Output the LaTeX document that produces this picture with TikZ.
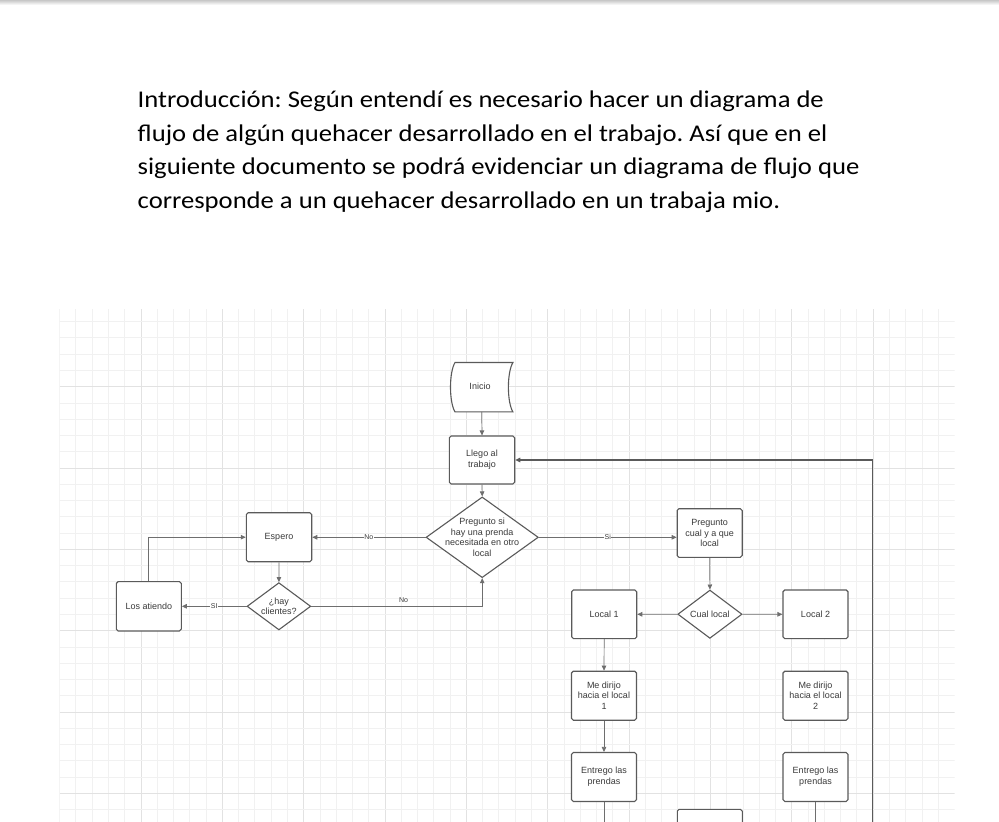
\documentclass[tikz,border=0pt]{standalone}
\usepackage{fontspec}
\setmainfont{Liberation Sans}
\newfontfamily\introfont[FakeStretch=1.11]{Carlito}
\usetikzlibrary{shapes.geometric,arrows.meta}

\definecolor{gridminor}{HTML}{F1F1F1}
\definecolor{gridmajor}{HTML}{E2E2E2}
\definecolor{boxline}{HTML}{5A5A5A}
\definecolor{connline}{HTML}{6E6E6E}
\definecolor{txt}{HTML}{3A3A3A}

\tikzset{
  box/.style={draw=boxline, fill=white, line width=1.1pt, rounded corners=1.8pt,
    minimum width=65pt, minimum height=49pt, inner sep=0pt, align=center,
    font=\fontsize{9}{10.7}\selectfont, text=txt},
  dec/.style={draw=boxline, fill=white, line width=1.1pt, diamond, inner sep=0pt},
  dectext/.style={align=center, inner sep=0pt, font=\fontsize{9}{10.7}\selectfont, text=txt},
  conn/.style={draw=connline, line width=0.7pt, -{Triangle[length=5pt,width=4.5pt]}},
  loopconn/.style={draw=boxline, line width=1.1pt, -{Triangle[length=5pt,width=4.5pt]}},
  plainconn/.style={draw=connline, line width=0.7pt},
  lbl/.style={fill=white, inner sep=0.6pt, font=\fontsize{7}{8}\selectfont, text=txt},
  lblnofill/.style={inner sep=0.6pt, font=\fontsize{7}{8}\selectfont, text=txt},
  intro/.style={anchor=base west, inner sep=0pt, font=\introfont\fontsize{24}{28}\selectfont\frenchspacing, text=black},
}

\begin{document}
\begin{tikzpicture}[x=1pt, y=-1pt]
\useasboundingbox (0,0) rectangle (999,822);
\clip (0,0) rectangle (999,822);
\fill[white] (0,0) rectangle (999,822);
\shade[top color=black!22, bottom color=white] (0,0) rectangle (999,5);

% intro text
\node[intro] (intro1) at (137.5,107.7) {Introducción: Según entendí es necesario hacer un diagrama de};
\node[intro] (intro2) at (137.5,141.3) {flujo de algún quehacer desarrollado en el trabajo. Así que en el};
\node[intro] (intro3) at (137.5,174.9) {siguiente documento se podrá evidenciar un diagrama de flujo que};
\node[intro] (intro4) at (137.5,208.5) {corresponde a un quehacer desarrollado en un trabaja mio.};

% grid
\begin{scope}
\clip (59.65,309) rectangle (954.5,822);
\foreach \k in {-5,...,49} {
  \pgfmathsetmacro\xx{141+\k*16.27}
  \pgfmathtruncatemacro\m{mod(\k+100,5)}
  \ifnum\m=0
    \draw[gridmajor, line width=0.9pt] (\xx,309) -- (\xx,822);
  \else
    \draw[gridminor, line width=0.9pt] (\xx,309) -- (\xx,822);
  \fi
}
\foreach \k in {-4,...,27} {
  \pgfmathsetmacro\yy{386.7+\k*16.27}
  \pgfmathtruncatemacro\m{mod(\k+100,5)}
  \ifnum\m=0
    \draw[gridmajor, line width=0.9pt] (59.65,\yy) -- (954.5,\yy);
  \else
    \draw[gridminor, line width=0.9pt] (59.65,\yy) -- (954.5,\yy);
  \fi
}
\end{scope}

% nodes
\node[minimum width=62pt, minimum height=49pt, inner sep=0pt] (inicio) at (481.7,387.2) {};
\draw[draw=boxline, fill=white, line width=1.1pt]
  ([xshift=4.5pt]inicio.north west) -- (inicio.north east)
  .. controls +(-6,10) and +(-6,-10) .. (inicio.south east)
  -- ([xshift=4.5pt]inicio.south west)
  .. controls +(-6,-10) and +(-6,10) .. ([xshift=4.5pt]inicio.north west) -- cycle;
\node[dectext] (inicioText) at (480,386) {Inicio};

\node[box, minimum width=65.4pt, minimum height=48pt] (llego) at (482,460) {Llego al\\trabajo};
\node[dec, minimum width=112.3pt, minimum height=80.7pt,
  label={[dectext]center:{Pregunto si\\hay una prenda\\necesitada en otro\\local}}] (d1) at (482.2,537.3) {};
\node[box, minimum height=48.6pt] (pcual) at (709.7,533) {Pregunto\\cual y a que\\local};
\node[dec, minimum width=64.3pt, minimum height=48.3pt,
  label={[dectext]center:{Cual local}}] (dcual) at (709.9,614.2) {};
\node[box, minimum height=48.7pt] (local1) at (604.2,614.3) {Local 1};
\node[box, minimum height=48.7pt] (local2) at (815.5,614.3) {Local 2};
\node[box] (dir1) at (604,695.7) {Me dirijo\\hacia el local\\1};
\node[box] (dir2) at (815.5,695.7) {Me dirijo\\hacia el local\\2};
\node[box] (ent1) at (604,777) {Entrego las\\prendas};
\node[box] (ent2) at (815.5,777) {Entrego las\\prendas};
\node[box] (final) at (709.8,833.8) {};

\node[box, minimum width=65.4pt] (espero) at (279,537.2) {Espero};
\node[dec, minimum width=63.7pt, minimum height=47.3pt,
  label={[dectext]center:{¿hay\\clientes?}}] (hay) at (278.9,606.3) {};
\node[box, minimum height=49.3pt] (atiendo) at (148.8,606.3) {Los atiendo};

\coordinate (loopbot) at (872.3,840);

% connectors
\draw[conn] (inicio.south) -- (llego.north);
\draw[conn] (llego.south) -- (d1.north);
\draw[conn] (d1.east) -- (pcual.west |- d1.east) node[lbl, midway] {Si};
\draw[conn] (pcual.south) -- (dcual.north);
\draw[conn] (dcual.west) -- (local1.east);
\draw[conn] (dcual.east) -- (local2.west);
\draw[conn] (local1.south) -- (dir1.north);
\draw[conn] (dir1.south) -- (ent1.north);
\draw[plainconn] (ent1.south) |- (final.west);
\draw[plainconn] (ent2.south) |- (final.east);
\draw[loopconn] (loopbot) |- (llego.east);

\draw[conn] (d1.west) -- (espero.east |- d1.west) node[lbl, midway] {No};
\draw[conn] (espero.south) -- (hay.north);
\draw[conn] (hay.west) -- (atiendo.east) node[lbl, midway] {SI};
\draw[conn] (atiendo.north) |- (espero.west);
\draw[conn] (hay.east) -| (d1.south) node[lblnofill, pos=0.27, above=2.5pt] {No};
\end{tikzpicture}
\end{document}
